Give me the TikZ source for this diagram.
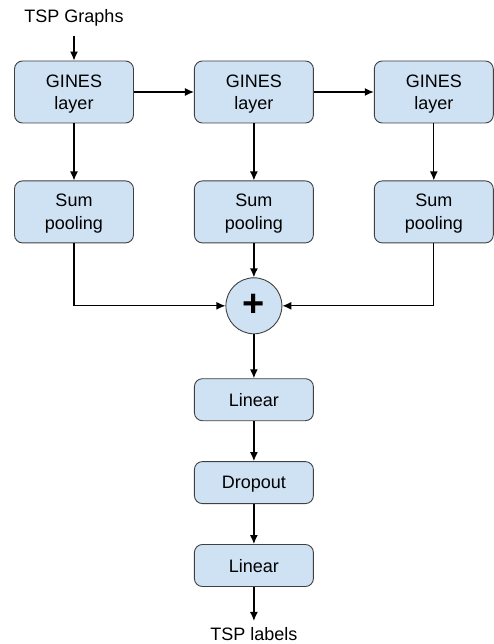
\documentclass[tikz,border=0pt]{standalone}
\usepackage{fontspec}
\setmainfont{Liberation Sans}
\usetikzlibrary{positioning, arrows.meta, shapes}
\definecolor{boxblue}{HTML}{CFE2F3}
\definecolor{boxline}{HTML}{404040}

\begin{document}
\begin{tikzpicture}[
    node distance=57pt and 60pt,
    block/.style={draw=boxline, fill=boxblue, rounded corners=8pt, line width=0.9pt, minimum width=119pt, minimum height=62pt, align=center, text depth=0pt, font=\fontsize{18}{22.5}\selectfont},
    thin block/.style={block, minimum height=42pt},
    sumop/.style={circle, draw=boxline, fill=boxblue, line width=0.9pt, minimum size=56pt, inner sep=0pt, font=\fontsize{38}{38}\selectfont\bfseries},
    txt/.style={inner sep=0pt, font=\fontsize{18}{21}\selectfont},
    arrow/.style={-{Latex[length=9pt,width=8pt]}, line width=1.3pt}
]
\useasboundingbox (0,0) rectangle (493pt,-644pt);

\node[block] (g1) at (74pt,-92pt) {GINES\\layer};
\node[block, right=of g1] (g2) {GINES\\layer};
\node[block, right=of g2] (g3) {GINES\\layer};
\node[block, below=of g1] (p1) {Sum\\pooling};
\node[block, below=of g2] (p2) {Sum\\pooling};
\node[block, below=of g3] (p3) {Sum\\pooling};
\node[sumop, below=34pt of p2] (plus) {+};
\node[thin block, below=44pt of plus] (lin1) {Linear};
\node[thin block, below=40pt of lin1] (drop) {Dropout};
\node[thin block, below=40pt of drop] (lin2) {Linear};
\node[txt, above=34pt of g1] (in) {TSP Graphs};
\node[txt, below=40pt of lin2] (out) {TSP labels};

\draw[arrow, shorten <=9pt] (in) -- (g1);
\draw[arrow] (g1) -- (g2);
\draw[arrow] (g2) -- (g3);
\draw[arrow] (g1) -- (p1);
\draw[arrow] (g2) -- (p2);
\draw[arrow] (g3) -- (p3);
\draw[arrow] (p1) |- (plus);
\draw[arrow] (p2) -- (plus);
\draw[arrow] (p3) |- (plus);
\draw[arrow] (plus) -- (lin1);
\draw[arrow] (lin1) -- (drop);
\draw[arrow] (drop) -- (lin2);
\draw[arrow, shorten >=6pt] (lin2) -- (out);

\end{tikzpicture}
\end{document}
